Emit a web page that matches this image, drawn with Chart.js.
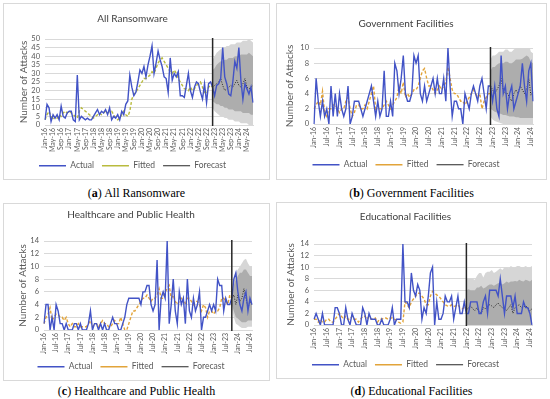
<!DOCTYPE html>
<html>
<head>
<meta charset="utf-8">
<script src="https://cdn.jsdelivr.net/npm/chart.js@4.4.1/dist/chart.umd.min.js"></script>
<style>
body { margin: 0; background: #fff; width: 550px; height: 399px; position: relative; overflow: hidden; }
.panel { position: absolute; border: 1px solid #d9d9d9; box-sizing: border-box; background: #fff; }
.panel canvas { display: block; }
.caption { position: absolute; text-align: center; font-family: 'Liberation Serif', serif; font-size: 12px; line-height: 14px; color: #000; }
</style>
</head>
<body>
<div class="panel" style="left:3px;top:3px;width:267px;height:177px"><canvas id="chartA" width="265" height="175"></canvas></div>
<div class="panel" style="left:276px;top:3px;width:271px;height:177px"><canvas id="chartB" width="269" height="175"></canvas></div>
<div class="panel" style="left:3px;top:203px;width:267px;height:178px"><canvas id="chartC" width="265" height="176"></canvas></div>
<div class="panel" style="left:276px;top:202px;width:271px;height:177px"><canvas id="chartD" width="269" height="175"></canvas></div>
<div class="caption" style="left:3px;top:186px;width:267px">(<b>a</b>) All Ransomware</div>
<div class="caption" style="left:276px;top:186px;width:271px">(<b>b</b>) Government Facilities</div>
<div class="caption" style="left:3px;top:384px;width:267px">(<b>c</b>) Healthcare and Public Health</div>
<div class="caption" style="left:276px;top:384px;width:271px">(<b>d</b>) Educational Facilities</div>
<script>
// months Jan-16 .. Aug-24
const monthNames = ['Jan', 'Feb', 'Mar', 'Apr', 'May', 'Jun', 'Jul', 'Aug', 'Sep', 'Oct', 'Nov', 'Dec'];
const months = [];
for (let y = 16; y <= 24; y++) {
    monthNames.forEach(m => months.push(m + '-' + y));
}
months.length = 104;

// (a) All Ransomware
const allActual = [3,12,10,2,6,4,6,3,11,5,4,7,8,8,3,2,29,
    3,5,4,3,4,3,3,5,7,9,6,8,7,9,6,10,3,5,4,6,3,8,6,12,14,29,
    22,17,19,25,32,30,34,28,35,40,46,30,36,43,38,34,28,27,19,39,26,30,28,31,17,17,16,23,30,20,16,22,25,24,19,15,24,13,24,25,22,
    17,23,24,27,45,28,24,18,17,25,37,33,45,26,15,24,21,18,22,13];
const allFitted = [3,6,8,5,3,5,4,6,5,7,8,7,8,7,6,5,4,
    8,10,9,8,7,6,5,4,5,6,7,6,7,8,7,8,8,6,4,3,4,6,8,6,5,8,
    15,18,19,21,23,25,27,27,28,29,31,30,33,36,38,39,37,35,33,31,30,32,30,27,25,23,21,21,20,22,20,21,23,24,25,22,19,18,22,23,22];
const allForecast = [22,23,24,25,27,23,20,21,22,23,22,24,26,23,22,24,27,22,21,22,23];
const allHi95 = [38,40,42,43,44,45,45,46,46,47,47,47,48,48,48,49,49,49,50,49,48];
const allHi80 = [32,33,35,36,37,37,38,38,39,39,39,40,40,40,41,41,41,41,42,41,40];
const allLo80 = [14,13,12,12,11,11,10,10,9,9,9,8,8,8,8,7,7,7,7,6,6];
const allLo95 = [10,8,7,6,5,5,4,4,3,3,3,2,2,2,1,1,1,1,0,0,0];

// (b) Government Facilities
const govActual = [0,6,3,1,3,1,2,0,5,1,4,1,4,2,1,2,5,0,1,3,3,3,2,1,2,3,4,5,3,1,3,1,2,7,1,1,3,1,8,7,
    4,6,9,4,3,3,4,9,8,9,4,3,5,3,4,5,6,4,6,4,4,6,3,10,5,1,3,3,2,2,0,4,3,2,4,5,4,3,5,6,
    4,2,5,5,3,5,2,1,9,4,5,2,4,5,2,3,4,5,8,5,3,7,8,3];
const govFitted = [2,2.5,3,2.5,4.3,1.5,1,2,2,2.5,2.5,2,1.5,2,2,3,3.5,2,1,1.5,2.5,2.5,2,2,2.5,2,3,4,5,2,
    2.5,2,2,2.5,3,2.5,2,2.5,3,3.5,5,4,5.5,3.5,4,3.5,4,4.5,4.5,5,6,7,7.3,6,5,5,4.5,4,4.5,5,
    4.5,5,5.5,7.5,6,4.5,4,4,3.5,3,3,2.5,3,3.5,4,4.5,4,3.5,4,2,3,3.5,4,4];
const govForecast = [5,4.5,4,4.5,5,6,4.5,4,4,3.5,3,4,4.5,4,5,4.5,4,4.5,6,3.8,4.2];
const govHi95 = [8.5,9,9,9.2,9.5,9.5,9.5,9.8,9.8,9.5,9.5,9.8,10,10,10,10.2,10.5,10.8,10.5,9.5,9.3];
const govHi80 = [7,7.5,7.5,7.8,8,8,8,8.2,8.2,8,8,8.2,8.5,8.5,8.5,8.6,8.8,9,8.8,8.2,8];
const govLo80 = [2,1.8,1.6,1.5,1.4,1.3,1.2,1.2,1.1,1,1,1,0.9,0.9,0.8,0.8,0.8,0.8,0.8,0.8,0.8];
const govLo95 = [1,0.6,0.4,0.3,0.2,0.1,0,0,0,0,0,0,0,0,0,0,0,0,0,0,0];

// (c) Healthcare and Public Health
const healthActual = [1,4,4,0,2,0,4,3,1,1,0,1,0,0,0,1,1,0,1,0,0,0,1,3,0,1,1,0,1,0,1,0,0,1,2,1,1,0,0,1,
    2,4,5,5,5,5,5,5,4,6,6,7,7,4,3,4,11,0,5,6,5,14,1,4,8,3,1,6,4,5,1,8,3,2,5,3,4,6,0,2,
    2,3,4,3,4,3,8,7,7,3,5,4,4,5,8,9,6,4,3,5,6,3,5,4];
const healthFitted = [1,2,2.5,3.5,1.5,2,2.5,2.5,2,2,1.5,2,1,0.5,1,0.5,0.5,1,0.5,0.5,0.5,0.5,1,1.5,0.5,1,1,0.5,1,1.5,
    1,1,0.5,0.5,1,1.5,1,1,2,1,0,0,1,2,3,3,3.5,4,4.5,5,5,5.5,5,4.5,5,5,5.5,6.5,5,5,
    6,6.5,7,5,5.5,4.5,4,4.5,5,4.5,4,5,5,4.5,4,4.5,4.5,4,3,4,3.5,2,3,3,2.5,3,3,3.5,5,5,4.5,4,5.5,5];
const healthForecast = [5,5.5,4,5.5,4.5,5,6.5,5,3.5,4.5,4];
const healthHi95 = [6,8,9,9.5,10,10.5,11,11.2,10.5,10,10];
const healthHi80 = [5.5,7,8,8.5,9,9,9.5,9.5,9,8.5,8.5];
const healthLo80 = [4,3,2,1.8,1.5,1.2,1.2,1.2,1.5,1.5,1.5];
const healthLo95 = [3.5,2,1,0.8,0.5,0.3,0.3,0.3,0.5,0.5,0.5];

// (d) Educational Facilities
const eduActual = [1,2,1,0,2,0,0,0,0,0,3,3,2,0,0,3,1,0,2,1,0,0,0,3,2,0,2,1,1,1,0,0,1,0,0,0,1,3,0,1,
    1,1,14,4,4,3,9,6,5,7,6,1,3,2,5,9,10,0,4,1,1,2,5,4,4,5,1,3,5,2,2,4,2,2,4,4,4,4,2,2,
    4,5,2,6,6,6,6,5,8,5,2,5,5,5,3,5,2,2,2,4,3,3,2,0];
const eduFitted = [1,1,0.5,1,0.5,0.5,1,1,0.5,0.5,1,1.5,2,1.5,1,1.5,1,1,1.5,1,1,0.5,1,1.5,1.5,1,1.5,1,1,1.2,
    0.5,1,1,1.2,1.2,1,1.2,1.2,1,0.8,0.5,0.3,
    0.5,4,3.5,3,4,4.5,5,5.5,5.5,5,4.5,3.5,3.5,5,5.8,5.5,5.2,5,4.5,4,3.5,3.3,3.2,3.5,3.2,3.3,3.5,3,2.8,3,2.5];
const eduForecast = [2.5,3,3.3,2.8,2.5,3,2.2,2,3,2.8,3.2,3.5,3.3,3,3.5,3.8,3.3,3,2.8,2.5,3,3.5,2,3,3.3,3.5,3,3.2,3.3,3,2.5,2.8];
const eduHi95 = [8,8,8,8,7.8,8.5,9,9,8.2,9,9.2,9.2,9.5,9,9.2,9.5,9.8,9.5,10,10,9.8,10.2,10,10,10.2,10.2,10,10,10.2,10,10,10.2];
const eduHi80 = [6,6.2,6,6,6,6.5,6.5,6.8,6.3,6.5,6.8,7,7,6.8,7,7.2,7.3,7,7.2,7.5,7.3,7.5,7.5,7.6,7.5,7.8,7.6,7.5,7.8,7.7,7.5,7.8];
const eduLow = [0,0,0,0,0,0,0,0,0,0,0,0,0,0,0,0,0,0,0,0,0,0,0,0,0,0,0,0,0,0,0,0];

const BLUE = '#4253c6';
const GREY_TEXT = '#595959';
const LIGHT_BAND = '#d6d6d6';
const DARK_BAND = '#adadad';

function pad(start, arr) {
    return Array(start).fill(null).concat(arr);
}

const forecastLine = {
    id: 'forecastLine',
    afterDatasetsDraw(chart, args, opts) {
        const x = chart.scales.x.getPixelForValue(opts.index);
        const { top, bottom } = chart.chartArea;
        const c = chart.ctx;
        c.save();
        c.strokeStyle = '#262626';
        c.lineWidth = 1.5;
        c.beginPath();
        c.moveTo(x, top - 1);
        c.lineTo(x, bottom + 1);
        c.stroke();
        c.restore();
    }
};

function band(data, fill, color) {
    return {
        label: '', data: data, borderWidth: 0, borderColor: 'rgba(0,0,0,0)',
        pointRadius: 0, fill: fill, backgroundColor: color
    };
}

function buildChart(id, p) {
    const s = p.start;
    return new Chart(document.getElementById(id), {
        type: 'line',
        data: {
            labels: months,
            datasets: [
                { label: 'Actual', data: p.actual, borderColor: BLUE, borderWidth: 1.4, pointRadius: 0, fill: false },
                { label: 'Fitted', data: p.fitted, borderColor: p.fitColor, borderWidth: 1.4, borderDash: [3, 2], pointRadius: 0, fill: false },
                { label: 'Forecast', data: pad(s, p.forecast), borderColor: '#262626', borderWidth: 1, borderDash: [1, 1.5], pointRadius: 0, fill: false },
                band(pad(s, p.hi80), '+1', DARK_BAND),
                band(pad(s, p.lo80), false, DARK_BAND),
                band(pad(s, p.hi95), '+1', LIGHT_BAND),
                band(pad(s, p.lo95), false, LIGHT_BAND)
            ]
        },
        options: {
            responsive: false,
            animation: false,
            devicePixelRatio: 1,
            events: [],
            layout: { padding: p.pad },
            plugins: {
                forecastLine: { index: s },
                title: {
                    display: true, text: p.title, color: '#404040',
                    font: { family: 'Lato', size: 10, weight: 'normal' },
                    padding: p.titlePad
                },
                legend: {
                    position: 'bottom',
                    labels: {
                        filter: item => item.datasetIndex < 3,
                        usePointStyle: true, pointStyle: 'line', pointStyleWidth: 27,
                        padding: 8, color: GREY_TEXT,
                        font: { family: 'Lato', size: 8.5 }
                    }
                },
                tooltip: { enabled: false }
            },
            scales: {
                x: {
                    grid: { display: false, drawTicks: false, tickLength: 0 },
                    border: { display: true, color: '#d9d9d9' },
                    ticks: {
                        autoSkip: false, maxRotation: 90, minRotation: 90, padding: 3,
                        color: GREY_TEXT, font: { family: 'Lato', size: 7 },
                        callback: (v, i) => i % p.step === 0 ? months[i] : ''
                    },
                    afterFit: sc => { sc.height = p.xh; }
                },
                y: {
                    min: 0, max: p.ymax,
                    ticks: { stepSize: p.ystep, autoSkip: false, padding: 5, color: GREY_TEXT, font: { family: 'Lato', size: 7.5 } },
                    grid: { color: '#d9d9d9', drawTicks: false },
                    border: { display: false },
                    title: {
                        display: true, text: 'Number of Attacks', color: GREY_TEXT,
                        font: { family: 'Lato', size: 10 }, padding: { top: p.yt, bottom: 0 }
                    },
                    afterFit: sc => { sc.width = p.yw; }
                }
            }
        },
        plugins: [forecastLine]
    });
}

buildChart('chartA', {
    title: 'All Ransomware', actual: allActual, fitted: allFitted, fitColor: '#b9bb3e',
    forecast: allForecast, hi95: allHi95, hi80: allHi80, lo80: allLo80, lo95: allLo95,
    start: 83, step: 4, ymax: 50, ystep: 5,
    pad: { left: 8, right: 16, top: 0, bottom: -1 }, titlePad: { top: 9, bottom: 14 },
    yw: 33, yt: 6, xh: 28.5
});

buildChart('chartB', {
    title: 'Government Facilities', actual: govActual, fitted: govFitted, fitColor: '#e2a43a',
    forecast: govForecast, hi95: govHi95, hi80: govHi80, lo80: govLo80, lo95: govLo95,
    start: 83, step: 6, ymax: 10, ystep: 2,
    pad: { left: 2, right: 13, top: 0, bottom: 0 }, titlePad: { top: 14, bottom: 18 },
    yw: 35, yt: 5, xh: 28.5
});

buildChart('chartC', {
    title: 'Healthcare and Public Health', actual: healthActual, fitted: healthFitted, fitColor: '#e2a43a',
    forecast: healthForecast, hi95: healthHi95, hi80: healthHi80, lo80: healthLo80, lo95: healthLo95,
    start: 93, step: 6, ymax: 14, ystep: 2,
    pad: { left: 6, right: 17, top: 0, bottom: -1 }, titlePad: { top: 5, bottom: 20 },
    yw: 34, yt: 7, xh: 24.5
});

buildChart('chartD', {
    title: 'Educational Facilities', actual: eduActual, fitted: eduFitted, fitColor: '#e2a43a',
    forecast: eduForecast, hi95: eduHi95, hi80: eduHi80, lo80: eduLow, lo95: eduLow,
    start: 72, step: 6, ymax: 14, ystep: 2,
    pad: { left: 2, right: 14, top: 0, bottom: -1 }, titlePad: { top: 8, bottom: 21 },
    yw: 35, yt: 6, xh: 27.5
});
</script>
</body>
</html>
